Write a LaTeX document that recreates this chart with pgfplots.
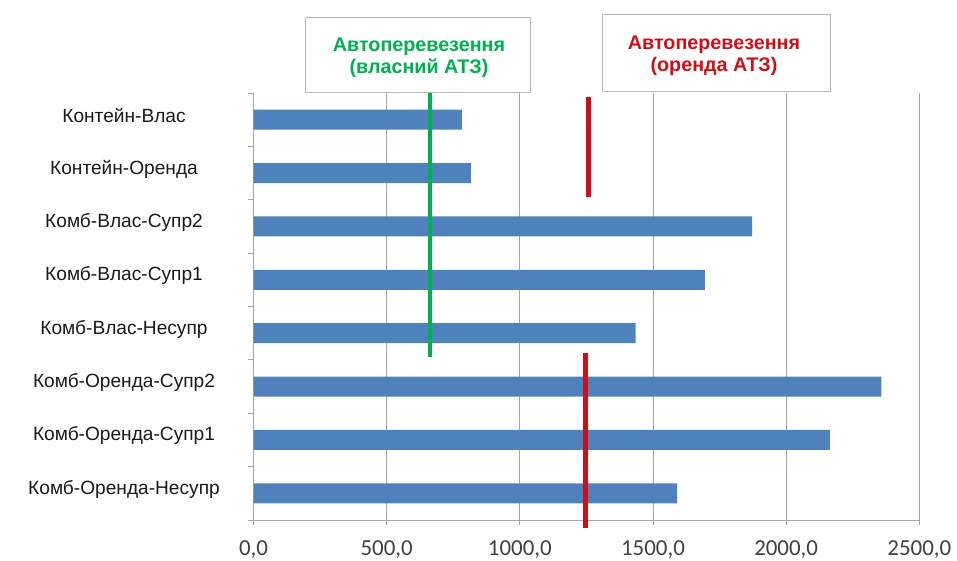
\documentclass[border=0pt]{standalone}
\usepackage{fontspec}
\setmainfont{Liberation Sans}
\newfontfamily\carlito{Carlito}
\usepackage{pgfplots}
\pgfplotsset{compat=1.18}

\definecolor{barblue}{RGB}{79,129,189}
\definecolor{ownGreen}{RGB}{0,176,80}
\definecolor{rentRed}{RGB}{204,16,24}
\definecolor{gridgray}{RGB}{166,166,166}

\begin{document}
\begin{tikzpicture}
\useasboundingbox (0,0) rectangle (957bp,561bp);
\begin{axis}[
  at={(253.5bp,41bp)}, anchor=south west,
  scale only axis, width=665.8bp, height=427bp,
  xmin=0, xmax=2500, ymin=-0.5, ymax=7.5,
  axis x line*=bottom, axis y line*=left,
  axis line style={gridgray, line width=0.8bp},
  clip=false,
  xtick={0,500,1000,1500,2000,2500},
  xmajorgrids, grid style={gridgray, line width=0.8bp},
  tick align=outside,
  major tick length=5bp,
  tick style={gridgray, line width=0.8bp},
  ytick={-0.5,0.5,...,7.5},
  y tick label as interval,
  yticklabels={Комб-Оренда-Несупр, Комб-Оренда-Супр1, Комб-Оренда-Супр2,
    Комб-Влас-Несупр, Комб-Влас-Супр1, Комб-Влас-Супр2,
    Контейн-Оренда, Контейн-Влас},
  yticklabel style={anchor=center, xshift=-124.5bp, yshift=4bp,
    font=\fontsize{19.2}{20}\selectfont, text=black!90},
  /pgf/number format/assume math mode=true,
  xticklabel style={anchor=center, yshift=-25bp,
    font=\carlito\fontsize{23}{24}\selectfont, text=black!75,
    /pgf/number format/.cd, fixed, fixed zerofill, precision=1,
    use comma, 1000 sep={}},
]
% cost per scheme
\addplot[xbar, bar width=20bp, fill=barblue, draw=none] coordinates {
  (1591,0) (2164,1) (2358,2) (1435,3) (1695,4) (1872,5) (816,6) (782,7)
};
% road transport, own vehicles
\addplot[ownGreen, line width=4.5bp, mark=none] coordinates {(662,2.55) (662,7.5)};
% road transport, rented vehicles
\addplot[rentRed, line width=5.5bp, mark=none] coordinates {(1257,5.56) (1257,7.42)};
\addplot[rentRed, line width=5.5bp, mark=none] coordinates {(1247,-0.65) (1247,2.63)};
\end{axis}
% caption boxes for the two reference levels
\draw[gridgray!80, fill=white, line width=0.8bp] (305bp,469bp) rectangle (530bp,544bp);
\node[align=center, text=ownGreen, inner sep=0pt,
  font=\bfseries\fontsize{19.8}{22.5}\selectfont]
  at (419bp,503.5bp) {Автоперевезення\\(власний АТЗ)};
\draw[gridgray!80, fill=white, line width=0.8bp] (602bp,470bp) rectangle (830bp,547bp);
\node[align=center, text=rentRed, inner sep=0pt,
  font=\bfseries\fontsize{19.8}{22.5}\selectfont]
  at (714bp,505bp) {Автоперевезення\\(оренда АТЗ)};
\end{tikzpicture}
\end{document}
